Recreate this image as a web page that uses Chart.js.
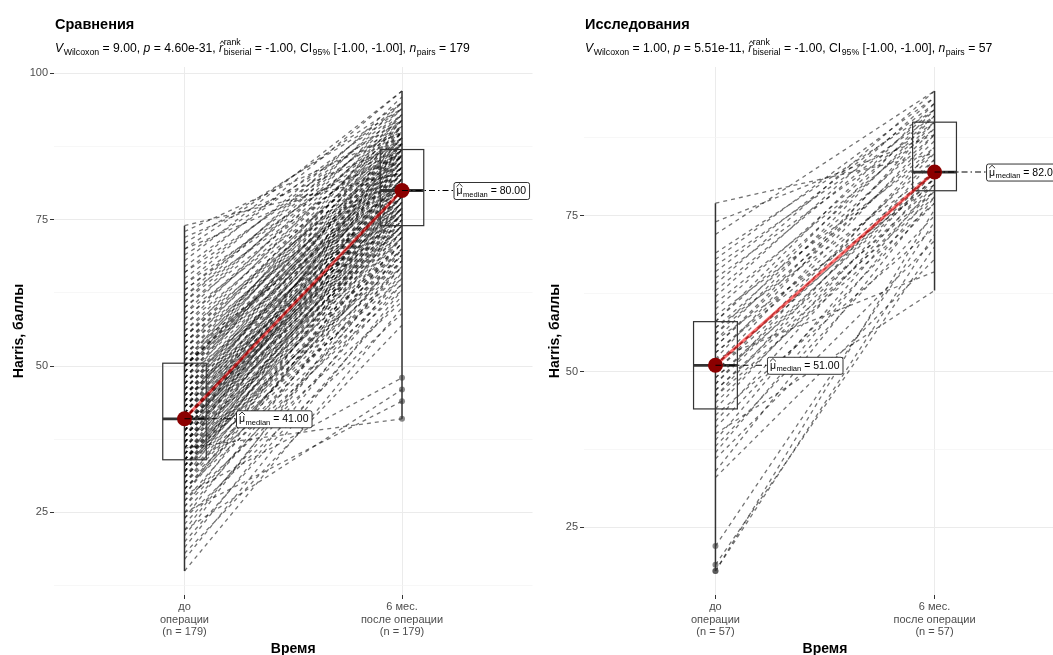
<!DOCTYPE html>
<html><head><meta charset="utf-8">
<script src="https://cdn.jsdelivr.net/npm/chart.js@4/dist/chart.umd.min.js"></script>
<style>
html,body{margin:0;padding:0;background:#fff;overflow:hidden;width:1053px;height:655px;position:relative;}
#w1{position:absolute;left:0;top:0;width:540px;height:655px;}
#w2{position:absolute;left:530px;top:0;width:560px;height:655px;}
</style></head><body>
<div id="w1"><canvas id="c1"></canvas></div>
<div id="w2"><canvas id="c2"></canvas></div>
<script>
// ---------- data ----------
const timeLabels = [['до','операции'],['6 мес.','после операции']];
const leftTitle = 'Сравнения';
const rightTitle = 'Исследования';
const yTitle = 'Harris, баллы';
const xTitle = 'Время';

const leftBefore = [15,17,18,19,20,21,22,22,23,24,24,25,25,26,26,27,27,28,28,28,29,29,29,30,30,30,31,31,31,31,32,32,32,32,33,33,33,33,33,34,34,34,34,34,34,
34,35,35,35,35,35,36,36,36,36,36,37,37,37,37,37,37,38,38,38,38,38,38,39,39,39,39,39,39,40,40,40,40,40,40,40,41,41,41,41,41,41,41,41,41,
41,42,42,42,42,42,43,43,43,43,43,44,44,44,44,44,45,45,45,45,45,46,46,46,46,47,47,47,47,48,48,48,48,49,49,49,49,50,50,50,50,50,50,50,
51,51,51,52,52,52,53,53,53,54,54,54,55,55,55,56,56,57,57,58,58,59,59,60,60,61,61,62,62,63,63,64,64,65,66,66,67,68,69,70,70,71,72,73,74];
const leftAfter = [60,63,57,66,62,70,46,68,64,72,59,44,67,75,65,69,61,48,73,78,63,71,67,76,64,70,80,68,72,66,74,77,69,82,71,65,75,79,70,73,67,84,72,76,69,
78,71,74,81,68,77,41,75,86,73,79,74,70,80,76,83,72,77,74,81,88,75,78,73,80,85,76,79,82,74,78,83,77,80,87,75,79,82,76,84,80,78,86,81,77,
80,85,79,82,88,76,81,84,78,90,80,83,87,79,82,86,80,89,84,77,85,81,88,83,86,82,91,80,85,87,84,89,79,86,92,83,88,85,90,81,87,93,84,86,
88,83,91,86,89,81,87,92,85,90,84,88,93,87,89,91,86,94,88,90,92,87,95,89,93,91,96,88,94,90,92,95,89,93,97,91,94,97,92,95,86,94,88,90,83];
const leftQ1 = [34, 74];
const leftMedian = [41, 80];
const leftQ3 = [50.5, 87];

const rightBefore = [18,18,19,22,33,34,36,37,38,39,40,41,42,43,44,45,46,46,47,47,48,48,49,49,50,50,51,51,51,52,52,53,53,54,54,55,55,56,56,57,57,58,58,59,60,61,62,63,64,65,66,67,68,69,72,74,77];
const rightAfter = [72,76,70,74,68,78,71,79,75,80,63,77,81,73,82,79,77,84,80,78,82,86,81,79,82,85,82,88,81,66,90,84,82,87,89,80,91,86,92,88,82,90,93,85,91,89,94,92,95,90,93,91,94,92,95,88,85];
const rightQ1 = [44, 79];
const rightMedian = [51, 82];
const rightQ3 = [58, 90];

const yTickValues = [12.5, 25, 37.5, 50, 62.5, 75, 87.5, 100];

const leftSubtitle = [['V','i'],['Wilcoxon','sub'],[' = 9.00, ','n'],['p','i'],[' = 4.60e-31, ','n'],['r','hi'],[['rank','biserial'],'ss'],[' = -1.00, CI','n'],['95%','sub'],[' [-1.00, -1.00], ','n'],['n','i'],['pairs','sub'],[' = 179','n']];
const rightSubtitle = [['V','i'],['Wilcoxon','sub'],[' = 1.00, ','n'],['p','i'],[' = 5.51e-11, ','n'],['r','hi'],[['rank','biserial'],'ss'],[' = -1.00, CI','n'],['95%','sub'],[' [-1.00, -1.00], ','n'],['n','i'],['pairs','sub'],[' = 57','n']];

// ---------- drawing helpers ----------
const FONT = '"Liberation Sans", Arial, Helvetica, sans-serif';
Chart.defaults.font.family = FONT;
function font(sz, bold, italic){ return (italic?'italic ':'')+(bold?'bold ':'')+sz+'px '+FONT; }
function drawHat(ctx, x, w, yTop){
  ctx.save(); ctx.beginPath(); ctx.strokeStyle='#000'; ctx.lineWidth=0.8; ctx.setLineDash([]);
  ctx.moveTo(x, yTop+3); ctx.lineTo(x+w/2, yTop); ctx.lineTo(x+w, yTop+3); ctx.stroke(); ctx.restore();
}
function richWidth(ctx, segs, sz){ return drawRich(ctx, 0, 0, segs, sz, true); }
function drawRich(ctx, x, y, segs, sz, measureOnly){
  const sub = sz*0.72; const x0 = x;
  ctx.textBaseline='alphabetic'; ctx.textAlign='left'; ctx.fillStyle='#000';
  for (const [t,k] of segs){
    if (k==='n' || k==='i'){
      ctx.font = font(sz,false,k==='i'); if(!measureOnly) ctx.fillText(t,x,y); x += ctx.measureText(t).width;
    } else if (k==='hi' || k==='hn'){
      ctx.font = font(sz,false,k==='hi'); const w = ctx.measureText(t).width;
      if(!measureOnly){ ctx.fillText(t,x,y); drawHat(ctx, x+(k==='hi'?1:0), w, y - sz*0.55 - 4.5); }
      x += w;
    } else if (k==='sub'){
      ctx.font = font(sub); if(!measureOnly) ctx.fillText(t,x+0.5,y+sz*0.25); x += ctx.measureText(t).width+0.5;
    } else if (k==='ss'){
      ctx.font = font(sub); const [a,b] = t;
      if(!measureOnly){ ctx.fillText(a,x+0.5,y-sz*0.6); ctx.fillText(b,x+0.5,y+sz*0.25); }
      x += Math.max(ctx.measureText(a).width, ctx.measureText(b).width)+0.5;
    }
  }
  return x - x0;
}

const panelInfo = {};

const panelPlugin = {
  id: 'panelDecor',
  beforeDatasetDraw(chart, args){
    if (args.index !== 1) return;
    const P = panelInfo[chart.canvas.id]; const ctx = chart.ctx;
    const xs = chart.scales.x, ys = chart.scales.y;
    ctx.save();
    [P.before, P.after].forEach((g,i)=>{
      const cx = xs.getPixelForValue(i+1);
      ctx.beginPath(); ctx.strokeStyle='#333'; ctx.lineWidth=1.5; ctx.setLineDash([]);
      ctx.moveTo(cx, ys.getPixelForValue(Math.min(...g)));
      ctx.lineTo(cx, ys.getPixelForValue(Math.max(...g)));
      ctx.stroke();
      const l = xs.getPixelForValue(i+1-0.1), r = xs.getPixelForValue(i+1+0.1);
      const t = ys.getPixelForValue(P.q3[i]), b = ys.getPixelForValue(P.q1[i]);
      ctx.lineWidth=1.2; ctx.strokeStyle='#333';
      ctx.strokeRect(l, t, r-l, b-t);
      const m = ys.getPixelForValue(P.med[i]);
      ctx.beginPath(); ctx.lineWidth=2.8; ctx.strokeStyle='#333';
      ctx.moveTo(l, m); ctx.lineTo(r, m); ctx.stroke();
    });
    ctx.restore();
  },
  afterDatasetsDraw(chart){
    const P = panelInfo[chart.canvas.id]; const ctx = chart.ctx;
    const xs = chart.scales.x, ys = chart.scales.y, ca = chart.chartArea;
    ctx.save();
    P.med.forEach((mv,i)=>{
      const px = xs.getPixelForValue(i+1), py = ys.getPixelForValue(mv);
      const lx = px + 51.5;
      ctx.beginPath(); ctx.strokeStyle='#000'; ctx.lineWidth=1.1; ctx.setLineDash([6,3,1.5,3]);
      ctx.moveTo(px, py); ctx.lineTo(lx, py); ctx.stroke(); ctx.setLineDash([]);
      const segs = [['μ','hn'],['median','sub'],[' = '+mv.toFixed(2),'n']];
      const sz = 10.5;
      const w = richWidth(ctx, segs, sz) + 6, h = 17;
      const top = py - h/2;
      ctx.beginPath(); ctx.fillStyle='#fff'; ctx.strokeStyle='#000'; ctx.lineWidth=0.8;
      if (ctx.roundRect) ctx.roundRect(lx+0.5, top+0.5, w, h, 2); else ctx.rect(lx+0.5, top+0.5, w, h);
      ctx.fill(); ctx.stroke();
      drawRich(ctx, lx+3, py+3.5, segs, sz);
    });
    ctx.fillStyle='#000'; ctx.textAlign='left'; ctx.textBaseline='alphabetic';
    ctx.font = font(14.5, true); ctx.fillText(P.title, ca.left+1, 29);
    drawRich(ctx, ca.left+1, 52, P.subtitle, 12.2);
    ctx.font = font(14, true); ctx.textAlign='center'; ctx.fillStyle='#000';
    ctx.fillText(xTitle, (ca.left+ca.right)/2, 653);
    ctx.save(); ctx.translate(P.yTitleX, (ca.top+ca.bottom)/2); ctx.rotate(-Math.PI/2);
    ctx.textBaseline='middle'; ctx.fillText(yTitle, 0, 0); ctx.restore();
    ctx.restore();
  }
};

function makePanel(id, before, after, q1, med, q3, title, subtitle, padRight, yTitleX){
  panelInfo[id] = {before, after, q1, med, q3, title, subtitle, yTitleX};
  const n = before.length;
  const all = before.concat(after);
  const lo = Math.min(...all), hi = Math.max(...all), ex = (hi-lo)*0.05;
  const outliers = [];
  [before, after].forEach((g,i)=>{
    const iqr = q3[i]-q1[i];
    g.forEach(v=>{ if (v < q1[i]-1.5*iqr || v > q3[i]+1.5*iqr) outliers.push({x:i+1, y:v}); });
  });
  const datasets = [
    {data:[{x:1,y:med[0]},{x:2,y:med[1]}], showLine:false, pointRadius:7.5, pointBackgroundColor:'#8B0000', pointBorderWidth:0},
    {data:[{x:1,y:med[0]},{x:2,y:med[1]}], borderColor:'rgba(255,0,0,0.55)', borderWidth:3, pointRadius:0},
    {data:outliers, showLine:false, pointRadius:3, pointBackgroundColor:'rgba(60,60,60,0.6)', pointBorderWidth:0}
  ];
  for (let i=0;i<n;i++){
    datasets.push({data:[{x:1,y:before[i]},{x:2,y:after[i]}], borderColor:'rgba(0,0,0,0.55)', borderWidth:1.3, borderDash:[4,4], pointRadius:0});
  }
  return new Chart(document.getElementById(id), {
    type:'line',
    data:{datasets},
    plugins:[panelPlugin],
    options:{
      responsive:true, maintainAspectRatio:false, animation:false,
      layout:{padding:{top:67, right:padRight, left:0, bottom:0}},
      plugins:{legend:{display:false}, tooltip:{enabled:false}, title:{display:false}},
      scales:{
        x:{type:'linear', min:0.4, max:2.6,
          afterBuildTicks:(s)=>{ s.ticks=[{value:1},{value:2}]; },
          afterFit:(s)=>{ s.height=60; },
          border:{display:false},
          grid:{color:'#EBEBEB', lineWidth:1, tickColor:'#333', tickLength:4},
          ticks:{color:'#4D4D4D', font:{size:11, lineHeight:1.13}, padding:2, maxRotation:0, autoSkip:false,
            callback:(v)=> v===1 ? timeLabels[0].concat(['(n = '+n+')']) : (v===2 ? timeLabels[1].concat(['(n = '+n+')']) : '')}
        },
        y:{type:'linear', min:lo-ex, max:hi+ex,
          afterBuildTicks:(s)=>{ s.ticks = yTickValues.filter(v=>v>=s.min && v<=s.max).map(v=>({value:v})); },
          afterFit:(s)=>{ s.width=54; },
          border:{display:false},
          grid:{color:(c)=> (c.tick && c.tick.value%25===0) ? '#EBEBEB' : '#F3F3F3',
                lineWidth:(c)=> (c.tick && c.tick.value%25===0) ? 1 : 0.7,
                tickColor:(c)=> (c.tick && c.tick.value%25===0) ? '#333' : 'rgba(0,0,0,0)', tickLength:4},
          ticks:{color:'#4D4D4D', font:{size:11}, padding:2, autoSkip:false,
            callback:(v)=> (v%25===0 ? String(v) : '')}
        }
      }
    }
  });
}

makePanel('c1', leftBefore, leftAfter, leftQ1, leftMedian, leftQ3, leftTitle, leftSubtitle, 4, 19);
makePanel('c2', rightBefore, rightAfter, rightQ1, rightMedian, rightQ3, rightTitle, rightSubtitle, 24, 25);
</script></body></html>
